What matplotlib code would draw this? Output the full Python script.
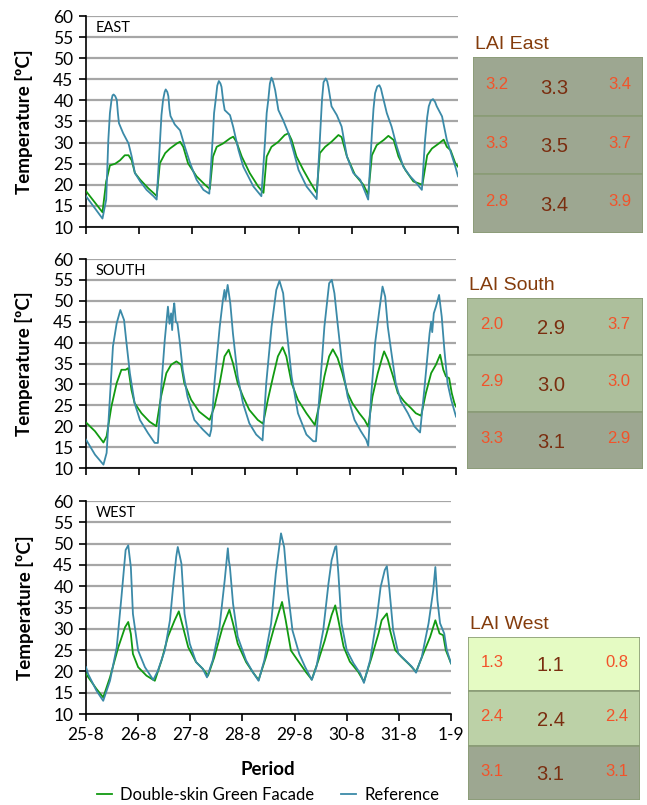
import matplotlib.pyplot as plt
import numpy as np

plt.rcParams['font.family'] = ['Lato', 'DejaVu Sans']

days = ['25-8', '26-8', '27-8', '28-8', '29-8', '30-8', '31-8', '1-9']

# (day since 25-8, temperature)
east_green = [(0, 18.5), (0.31, 13.5), (0.38, 20.8), (0.45, 24.6), (0.55, 25.0), (0.64, 25.8), (0.73, 27.0),
              (0.80, 27.0), (0.86, 25.8), (0.92, 22.8), (1.02, 21.2), (1.17, 19.2), (1.30, 17.7), (1.33, 17.3),
              (1.39, 25.1), (1.49, 27.5), (1.58, 28.6), (1.71, 29.8), (1.77, 30.2), (1.83, 29.0), (1.92, 25.1),
              (2.08, 22.0), (2.24, 20.0), (2.33, 19.0), (2.39, 26.7), (2.46, 29.0), (2.58, 29.8), (2.71, 31.0),
              (2.77, 31.4), (2.83, 30.2), (2.93, 26.7), (3.08, 22.8), (3.24, 19.6), (3.34, 18.1), (3.40, 26.7),
              (3.49, 29.0), (3.62, 30.2), (3.74, 31.8), (3.81, 32.2), (3.87, 30.6), (3.96, 26.7), (4.09, 23.5),
              (4.21, 20.8), (4.34, 18.1), (4.40, 27.5), (4.50, 29.0), (4.62, 30.2), (4.75, 31.8), (4.81, 31.3),
              (4.91, 26.7), (5.06, 22.4), (5.22, 20.0), (5.31, 17.7), (5.38, 27.0), (5.47, 29.4), (5.60, 30.6),
              (5.69, 31.6), (5.79, 30.6), (5.88, 26.7), (6.01, 23.5), (6.16, 20.8), (6.33, 20.0), (6.42, 27.0),
              (6.51, 28.6), (6.64, 29.8), (6.73, 30.7), (6.79, 29.0), (6.86, 28.2), (6.95, 25.1), (7.0, 24.3)]
east_ref = [(0, 17.3), (0.31, 12.0), (0.38, 16.5), (0.42, 30.6), (0.45, 37.0), (0.48, 40.1), (0.50, 41.2),
            (0.52, 41.4), (0.55, 41.0), (0.58, 40.1), (0.60, 37.0), (0.62, 34.6), (0.70, 32.2), (0.80, 29.8),
            (0.86, 26.7), (0.92, 22.8), (1.02, 20.8), (1.14, 18.8), (1.27, 17.3), (1.33, 16.5), (1.39, 29.8),
            (1.42, 36.5), (1.45, 40.1), (1.48, 42.0), (1.50, 42.6), (1.53, 42.0), (1.55, 41.0), (1.57, 38.0),
            (1.59, 36.3), (1.67, 34.3), (1.77, 32.9), (1.86, 29.0), (1.96, 25.1), (2.08, 21.2), (2.21, 18.8),
            (2.32, 17.9), (2.39, 32.3), (2.41, 37.0), (2.44, 40.1), (2.47, 43.5), (2.50, 44.6), (2.53, 44.0),
            (2.55, 43.2), (2.58, 40.0), (2.61, 37.7), (2.71, 36.5), (2.77, 33.7), (2.87, 28.2), (2.96, 24.3),
            (3.15, 19.6), (3.30, 17.3), (3.37, 30.6), (3.40, 37.0), (3.43, 40.1), (3.46, 44.0), (3.49, 45.4),
            (3.52, 44.5), (3.56, 42.4), (3.62, 37.7), (3.71, 35.3), (3.81, 32.2), (3.90, 28.2), (4.00, 23.5),
            (4.15, 19.6), (4.34, 16.6), (4.40, 30.6), (4.44, 40.0), (4.47, 44.3), (4.51, 45.2), (4.54, 44.5),
            (4.56, 43.3), (4.62, 38.6), (4.72, 36.5), (4.81, 33.8), (4.91, 26.7), (5.03, 22.8), (5.16, 21.2),
            (5.31, 16.5), (5.38, 32.2), (5.41, 38.0), (5.44, 41.7), (5.48, 43.3), (5.52, 43.6), (5.55, 42.8),
            (5.57, 41.7), (5.66, 37.0), (5.75, 33.8), (5.85, 29.0), (5.97, 24.3), (6.10, 22.0), (6.19, 20.8),
            (6.32, 18.8), (6.38, 30.6), (6.42, 36.0), (6.45, 38.6), (6.49, 40.0), (6.53, 40.3), (6.57, 39.6),
            (6.60, 38.6), (6.70, 36.2), (6.79, 30.6), (6.89, 26.7), (6.95, 24.3), (7.0, 22.0)]

south_green = [(0, 20.9), (0.17, 18.8), (0.33, 16.1), (0.39, 17.6), (0.48, 24.7), (0.58, 30.3), (0.67, 33.5),
               (0.75, 33.5), (0.80, 33.9), (0.86, 28.7), (0.92, 25.5), (1.05, 23.1), (1.20, 21.1), (1.33, 20.0),
               (1.42, 27.1), (1.52, 32.7), (1.61, 34.7), (1.71, 35.5), (1.80, 34.7), (1.86, 30.3), (1.99, 26.3),
               (2.14, 23.5), (2.34, 21.5), (2.43, 24.7), (2.53, 30.3), (2.62, 36.7), (2.70, 38.3), (2.78, 35.1),
               (2.87, 30.3), (2.97, 27.1), (3.09, 23.9), (3.25, 21.5), (3.35, 20.6), (3.44, 26.3), (3.54, 31.9),
               (3.63, 36.7), (3.72, 38.9), (3.79, 36.7), (3.89, 30.3), (4.01, 26.3), (4.17, 23.1), (4.33, 20.3),
               (4.42, 25.5), (4.51, 31.9), (4.60, 36.7), (4.67, 38.4), (4.76, 36.3), (4.85, 32.7), (4.95, 27.9),
               (5.04, 25.5), (5.17, 23.1), (5.27, 21.5), (5.34, 19.9), (5.42, 27.1), (5.52, 32.7), (5.61, 36.7),
               (5.64, 37.9), (5.71, 35.9), (5.80, 32.3), (5.90, 27.9), (6.02, 25.9), (6.15, 24.3), (6.24, 23.1),
               (6.34, 22.5), (6.43, 27.9), (6.53, 32.7), (6.62, 34.7), (6.70, 37.1), (6.76, 33.5), (6.81, 31.9),
               (6.87, 31.5), (6.92, 27.9), (6.97, 25.5), (7.0, 24.7)]
south_ref = [(0, 16.8), (0.17, 13.2), (0.33, 10.8), (0.39, 13.6), (0.45, 26.3), (0.51, 39.1), (0.58, 44.6),
             (0.65, 47.8), (0.72, 45.4), (0.76, 40.6), (0.83, 32.7), (0.92, 25.5), (1.02, 21.5), (1.17, 18.4),
             (1.30, 16.0), (1.36, 16.0), (1.42, 28.7), (1.49, 40.6), (1.55, 48.6), (1.58, 44.5), (1.61, 47.0),
             (1.63, 43.0), (1.65, 47.5), (1.67, 49.4), (1.70, 45.0), (1.73, 44.6), (1.77, 40.6), (1.83, 33.5),
             (1.92, 27.1), (2.05, 21.5), (2.21, 19.2), (2.34, 17.6), (2.37, 19.2), (2.43, 30.3), (2.53, 43.8),
             (2.59, 50.2), (2.62, 52.6), (2.64, 50.2), (2.68, 53.8), (2.73, 49.4), (2.78, 42.2), (2.87, 31.9),
             (2.97, 25.5), (3.09, 20.7), (3.22, 18.0), (3.34, 16.6), (3.41, 30.3), (3.51, 43.8), (3.60, 52.6),
             (3.66, 54.8), (3.73, 51.8), (3.79, 43.8), (3.89, 31.9), (4.01, 23.1), (4.17, 18.0), (4.30, 16.4),
             (4.35, 16.4), (4.41, 26.3), (4.51, 43.8), (4.60, 54.2), (4.65, 55.0), (4.70, 51.8), (4.76, 44.6),
             (4.85, 34.3), (4.95, 27.1), (5.08, 21.5), (5.20, 18.8), (5.30, 16.8), (5.34, 15.3), (5.39, 26.3),
             (5.47, 39.9), (5.55, 47.8), (5.61, 53.4), (5.66, 51.0), (5.71, 43.8), (5.77, 38.3), (5.86, 30.3),
             (5.96, 25.9), (6.09, 23.1), (6.21, 20.0), (6.32, 18.5), (6.40, 28.7), (6.50, 42.2), (6.53, 45.0),
             (6.55, 42.5), (6.58, 47.0), (6.62, 48.6), (6.68, 51.4), (6.73, 46.2), (6.78, 38.3), (6.84, 30.3),
             (6.91, 26.3), (7.0, 22.3)]

west_green = [(0, 19.4), (0.20, 15.9), (0.33, 13.9), (0.46, 18.6), (0.62, 25.7), (0.75, 30.4), (0.81, 31.6),
              (0.86, 28.8), (0.90, 24.1), (1.00, 21.0), (1.16, 19.0), (1.32, 17.8), (1.45, 22.6), (1.57, 28.1),
              (1.70, 32.0), (1.78, 34.1), (1.86, 30.4), (1.96, 25.7), (2.11, 22.2), (2.24, 20.6), (2.34, 19.0),
              (2.46, 23.3), (2.62, 30.4), (2.75, 34.5), (2.82, 31.2), (2.91, 26.5), (3.07, 22.2), (3.20, 19.8),
              (3.31, 18.0), (3.45, 23.3), (3.61, 30.4), (3.76, 36.3), (3.83, 32.0), (3.93, 24.9), (4.06, 22.6),
              (4.22, 19.8), (4.33, 18.1), (4.46, 22.7), (4.58, 27.3), (4.71, 33.2), (4.78, 35.5), (4.84, 32.0),
              (4.94, 25.8), (5.06, 22.3), (5.22, 19.9), (5.33, 17.6), (5.48, 23.4), (5.61, 28.9), (5.67, 32.0),
              (5.77, 33.6), (5.83, 29.7), (5.93, 25.0), (6.05, 23.4), (6.21, 21.5), (6.33, 19.9), (6.47, 24.2),
              (6.60, 28.1), (6.70, 32.0), (6.78, 28.9), (6.85, 28.5), (6.90, 25.0), (7.0, 21.9)]
west_ref = [(0, 21.0), (0.04, 19.4), (0.20, 15.5), (0.33, 13.1), (0.46, 17.8), (0.59, 25.7), (0.68, 37.5),
            (0.76, 48.5), (0.81, 49.6), (0.86, 44.5), (0.90, 33.5), (1.00, 24.9), (1.13, 21.0), (1.29, 18.0),
            (1.38, 20.2), (1.51, 24.9), (1.61, 32.0), (1.67, 39.8), (1.73, 46.9), (1.76, 49.2), (1.80, 47.0),
            (1.83, 45.3), (1.89, 33.5), (1.99, 26.5), (2.11, 22.2), (2.24, 20.6), (2.32, 18.6), (2.43, 22.6),
            (2.56, 30.4), (2.66, 41.4), (2.72, 48.9), (2.74, 46.0), (2.76, 44.5), (2.82, 35.9), (2.91, 28.1),
            (3.07, 22.6), (3.20, 19.8), (3.31, 17.8), (3.42, 22.6), (3.55, 31.2), (3.64, 43.0), (3.74, 52.4),
            (3.80, 49.2), (3.87, 39.0), (3.96, 29.6), (4.09, 24.1), (4.20, 21.1), (4.33, 18.0), (4.42, 21.1),
            (4.55, 29.7), (4.65, 40.6), (4.71, 46.1), (4.78, 49.2), (4.80, 49.4), (4.84, 43.0), (4.90, 31.3),
            (5.00, 25.0), (5.13, 21.9), (5.26, 19.5), (5.33, 17.3), (5.45, 22.7), (5.58, 32.8), (5.65, 39.8),
            (5.73, 43.8), (5.77, 44.7), (5.82, 39.1), (5.89, 29.7), (5.99, 24.2), (6.15, 22.3), (6.25, 21.1),
            (6.33, 19.7), (6.44, 23.4), (6.57, 31.3), (6.66, 39.1), (6.70, 44.5), (6.74, 36.7), (6.79, 31.3),
            (6.87, 28.9), (6.92, 25.0), (7.0, 21.9)]

# LAI tables: rows top->bottom, columns left/middle/right
lai_east = [[3.2, 3.3, 3.4], [3.3, 3.5, 3.7], [2.8, 3.4, 3.9]]
lai_south = [[2.0, 2.9, 3.7], [2.9, 3.0, 3.0], [3.3, 3.1, 2.9]]
lai_west = [[1.3, 1.1, 0.8], [2.4, 2.4, 2.4], [3.1, 3.1, 3.1]]

GREEN = '#119a11'
BLUE = '#3b8aa8'

W, H = 647, 805
fig = plt.figure(figsize=(W / 100, H / 100), dpi=100)


def px_axes(x0, y0, x1, y1):
    # pixel box (top-left origin) -> figure axes
    return fig.add_axes([x0 / W, 1 - y1 / H, (x1 - x0) / W, (y1 - y0) / H])


panels = [('EAST', east_green, east_ref, (86, 16, 458, 227)),
          ('SOUTH', south_green, south_ref, (86, 259, 456, 468)),
          ('WEST', west_green, west_ref, (86, 501, 451, 714))]

for i, (name, green, ref, box) in enumerate(panels):
    ax = px_axes(*box)
    g = np.array(green)
    r = np.array(ref)
    ax.plot(g[:, 0], g[:, 1], color=GREEN, lw=1.3, label='Double-skin Green Facade', zorder=3)
    ax.plot(r[:, 0], r[:, 1], color=BLUE, lw=1.3, label='Reference', zorder=4)
    ax.set_xlim(0, 7)
    ax.set_ylim(10, 60)
    ax.set_yticks(np.arange(10, 61, 5))
    ax.set_xticks(np.arange(0, 8))
    ax.grid(axis='y', color='#a6a6a6', lw=1.6)
    ax.set_axisbelow(True)
    for s in ['top', 'right']:
        ax.spines[s].set_visible(False)
    for s in ['left', 'bottom']:
        ax.spines[s].set_color('black')
        ax.spines[s].set_linewidth(1.2)
    ax.tick_params(axis='both', direction='out', length=5, width=1.2, labelsize=12.5, pad=4)
    if i == 2:
        ax.set_xticklabels(days)
    else:
        ax.set_xticklabels([])
    ax.set_ylabel('Temperature [ºC]', fontsize=13.5, fontweight='bold')
    ax.yaxis.set_label_coords(-0.142, 0.5)
    ax.text(0.027, 0.943, name, transform=ax.transAxes, fontsize=10.5, va='center')
    if i == 2:
        handles, labels = ax.get_legend_handles_labels()

fig.text(268 / W, 1 - 769 / H, 'Period', ha='center', va='center', fontsize=13.5, fontweight='bold')
fig.legend(handles, labels, loc='center', bbox_to_anchor=(268 / W, 1 - 795 / H), ncol=2, frameon=False,
           fontsize=12, handlelength=0.9, handletextpad=0.5, columnspacing=1.6)

# LAI boxes
boxes = [('LAI East', lai_east, (473, 57, 643, 233), ['#9da791', '#9da791', '#9da791']),
         ('LAI South', lai_south, (467, 298, 643, 469), ['#adbf9c', '#adbf9c', '#9da791']),
         ('LAI West', lai_west, (468, 637, 640, 800), ['#e5fbc3', '#bcd1a7', '#9da791'])]

col_x = [0.14, 0.48, 0.865]
for title, vals, box, colors in boxes:
    bx = px_axes(*box)
    bx.set_xlim(0, 1)
    bx.set_ylim(3, 0)
    bx.axis('off')
    for r in range(3):
        bx.add_patch(plt.Rectangle((0, r), 1, 1, facecolor=colors[r], edgecolor='#8a9c76', lw=1.2))
        for c in range(3):
            mid = c == 1
            bx.text(col_x[c], r + (0.53 if mid else 0.47), f'{vals[r][c]:.1f}', ha='center', va='center',
                    family=['Liberation Sans', 'DejaVu Sans'],
                    fontsize=14.5 if mid else 12, color='#7a2e10' if mid else '#f2532a')
    bx.text(0.01, -0.07, title, ha='left', va='bottom', fontsize=14, color='#843c0c',
            family=['Liberation Sans', 'DejaVu Sans'])

fig.savefig('out.png', dpi=100)
